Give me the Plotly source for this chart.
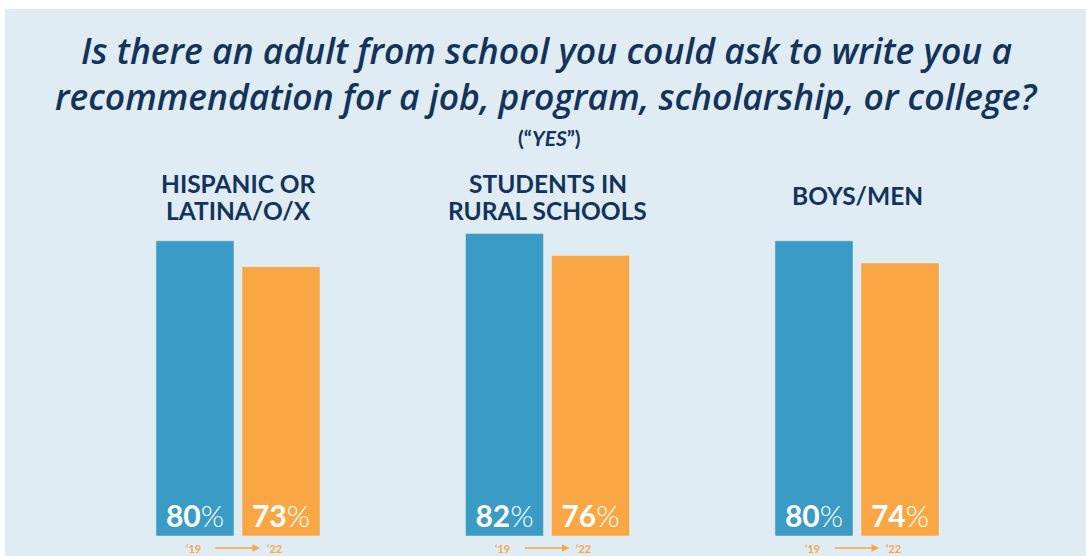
import plotly.graph_objects as go

groups = ["HISPANIC OR<br>LATINA/O/X", "STUDENTS IN<br>RURAL SCHOOLS", "BOYS/MEN"]
years = ["2019", "2022"]
values_2019 = [80, 82, 80]
values_2022 = [73, 76, 74]
title_lines = ["Is there an adult from school you could ask to write you a",
               "recommendation for a job, program, scholarship, or college?"]
subtitle = "(“<i>YES</i>”)"

BLUE = "#3a9bc4"
ORANGE = "#f9a745"
DARK = "#14335a"
BG = "#dfecf3"

def labels(vals):
    return [f"<b>{v}</b>%" for v in vals]

fig = go.Figure()
for vals, yr, col in [(values_2019, years[0], BLUE), (values_2022, years[1], ORANGE)]:
    fig.add_bar(x=groups, y=vals, name=yr, marker_color=col,
                text=labels(vals), textposition="inside", insidetextanchor="start",
                textfont=dict(family="Lato", size=30, color="white", weight=300),
                cliponaxis=False)

ymin = -20 / 3.69
ymax = ymin + 556 / 3.69

fig.update_layout(
    width=1086, height=556, margin=dict(l=0, r=0, t=0, b=0),
    paper_bgcolor="white", plot_bgcolor="rgba(0,0,0,0)",
    barmode="group", bargap=0.444, bargroupgap=0.093,
    showlegend=False,
    xaxis=dict(domain=[83.25 / 1086, 1011.75 / 1086], showticklabels=False,
               showgrid=False, zeroline=False, fixedrange=True),
    yaxis=dict(range=[ymin, ymax], visible=False, fixedrange=True),
    uniformtext=dict(mode="show", minsize=10),
    shapes=[dict(type="rect", xref="paper", yref="paper", x0=5 / 1086, x1=1,
                 y0=0, y1=1 - 9 / 556, fillcolor=BG, line_width=0, layer="below")],
)

ann = []
for i, line in enumerate(title_lines):
    ann.append(dict(text=line, xref="paper", yref="paper",
                    x=546 / 1086, y=1 - (50 + 46 * i) / 556, xanchor="center", yanchor="middle",
                    showarrow=False,
                    font=dict(family="Open Sans", size=35.5, color=DARK, style="italic", weight=600)))
ann.append(dict(text=f"<b>{subtitle}</b>", xref="paper", yref="paper",
                x=549 / 1086, y=1 - 137 / 556, xanchor="center", yanchor="middle", showarrow=False,
                font=dict(family="Lato", size=21, color=DARK)))
for g in groups:
    parts = g.split("<br>")
    if len(parts) == 2:
        ys = [184, 210]
    else:
        ys = [195]
    for p, yy in zip(parts, ys):
        ann.append(dict(text=f"<b>{p}</b>", x=g, xref="x", yref="paper", y=1 - yy / 556,
                        xanchor="center", yanchor="middle", showarrow=False,
                        font=dict(family="Lato", size=24.5, color=DARK)))
    ann.append(dict(text="<b>‘19</b>", x=g, xref="x", yref="paper", y=1 - 548 / 556,
                    xshift=-45, xanchor="center", yanchor="middle", showarrow=False,
                    font=dict(family="Lato", size=11, color=ORANGE)))
    ann.append(dict(text="<b>‘22</b>", x=g, xref="x", yref="paper", y=1 - 548 / 556,
                    xshift=36, xanchor="center", yanchor="middle", showarrow=False,
                    font=dict(family="Lato", size=11, color=ORANGE)))
    ann.append(dict(text="", x=g, xref="x", yref="paper", y=1 - 548 / 556,
                    xshift=22, ax=-46, ay=0, showarrow=True, arrowhead=2, arrowsize=1,
                    arrowwidth=1.5, arrowcolor=ORANGE))
fig.update_layout(annotations=ann)

fig.write_html("out.html", config={"displayModeBar": False},
               post_script="document.body.style.margin='0';")
